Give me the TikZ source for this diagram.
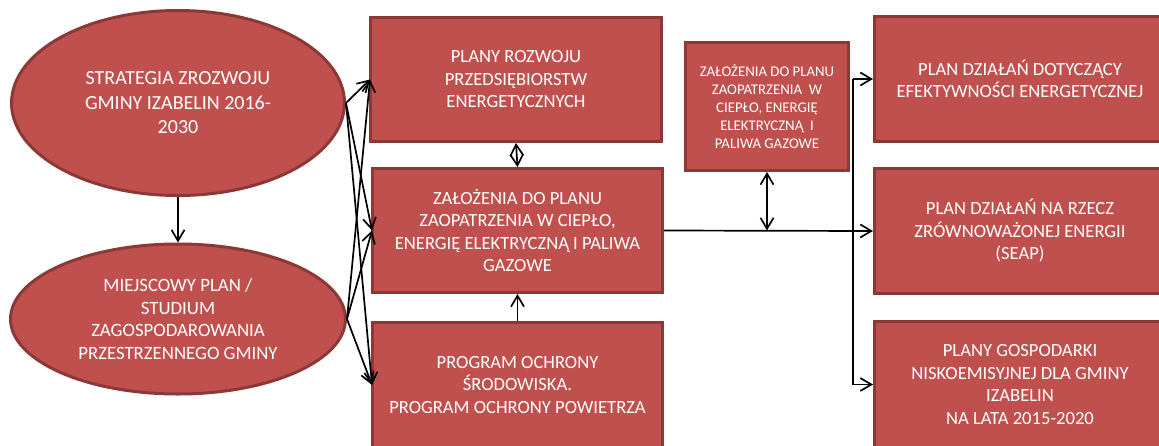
\documentclass[tikz,border=0pt]{standalone}
\usepackage{fontspec}
\setmainfont{Carlito}
\usetikzlibrary{shapes.geometric,arrows.meta}
\definecolor{boxfill}{HTML}{C0504D}
\definecolor{boxline}{HTML}{8C3836}
\tikzset{
  shp/.style={fill=boxfill, draw=boxline, line width=3pt, text=white, align=center, inner sep=0pt},
  ell/.style={shp, ellipse},
  bx/.style={shp, rectangle, font=\fontsize{18.6}{22.5}\selectfont},
  sbx/.style={shp, rectangle, font=\fontsize{14.8}{18}\selectfont},
  conn/.style={line width=1.7pt, black},
  tip/.style={},
  arr/.style={conn, -{Straight Barb[length=11pt,width=13pt]}},
  darr/.style={conn, {Straight Barb[length=11pt,width=13pt]}-{Straight Barb[length=11pt,width=13pt]}},
}
\begin{document}
\begin{tikzpicture}[x=1pt,y=-1pt]
\clip (0,0) rectangle (1159,445);
\fill[white] (0,0) rectangle (1159,445);
% ellipses
\node[ell, font=\fontsize{20}{24.5}\selectfont, minimum width=333pt, minimum height=185pt] (e1) at (178,103)
  {STRATEGIA ZROZWOJU\\GMINY IZABELIN 2016-\\2030};
\node[ell, font=\fontsize{18.8}{22.7}\selectfont, minimum width=335pt, minimum height=150pt] (e2) at (178,319)
  {MIEJSCOWY PLAN /\\STUDIUM\\ZAGOSPODAROWANIA\\PRZESTRZENNEGO GMINY};
% middle column
\node[bx, minimum width=291pt, minimum height=124pt] (b1) at (516,79.5)
  {PLANY ROZWOJU\\PRZEDSIĘBIORSTW\\ENERGETYCZNYCH};
\node[bx, minimum width=290pt, minimum height=124pt] (b2) at (517.5,230.5)
  {ZAŁOŻENIA DO PLANU\\ZAOPATRZENIA W CIEPŁO,\\ENERGIĘ ELEKTRYCZNĄ I PALIWA\\GAZOWE};
\node[bx, minimum width=290pt, minimum height=125pt] (b3) at (517.5,385)
  {PROGRAM OCHRONY\\ŚRODOWISKA.\\PROGRAM OCHRONY POWIETRZA};
% small box
\node[sbx, minimum width=163pt, minimum height=128pt] (m) at (767,106.5)
  {ZAŁOŻENIA DO PLANU\\ZAOPATRZENIA\ \ W\\CIEPŁO, ENERGIĘ\\ELEKTRYCZNĄ\ \ I\\PALIWA GAZOWE};
% right column
\node[bx, minimum width=291pt, minimum height=125pt] (r1) at (1020,79)
  {PLAN DZIAŁAŃ DOTYCZĄCY\\EFEKTYWNOŚCI ENERGETYCZNEJ};
\node[bx, minimum width=291pt, minimum height=125pt] (r2) at (1020,231)
  {PLAN DZIAŁAŃ NA RZECZ\\ZRÓWNOWAŻONEJ ENERGII\\(SEAP)};
\node[bx, minimum width=291pt, minimum height=126pt] (r3) at (1020,384.5)
  {PLANY GOSPODARKI\\NISKOEMISYJNEJ DLA GMINY\\IZABELIN\\NA LATA 2015-2020};
% connectors left
\draw[arr] (e1.south) -- (e2.north);
\foreach \s in {e1,e2}{
  \foreach \t in {b1,b2,b3}{
    \draw[arr] (\s.east) -- ([xshift=1pt]\t.west);
  }
}
\draw[darr] (b1.south) -- (b2.north);
\draw[arr] (b3.north) -- (b2.south);
% connectors right
\coordinate (jt) at ([xshift=-20pt]r1.west);
\coordinate (jb) at ([xshift=-20pt]r3.west);
\coordinate (jm) at (m.south |- b2.east);
\draw[arr] (b2.east) -- (r2.west);
\draw[conn] (jt) -- (jb);
\draw[arr] (jt) -- (r1.west);
\draw[arr] (jb) -- (r3.west);
\draw[darr] (m.south) -- (jm);
\end{tikzpicture}
\end{document}
